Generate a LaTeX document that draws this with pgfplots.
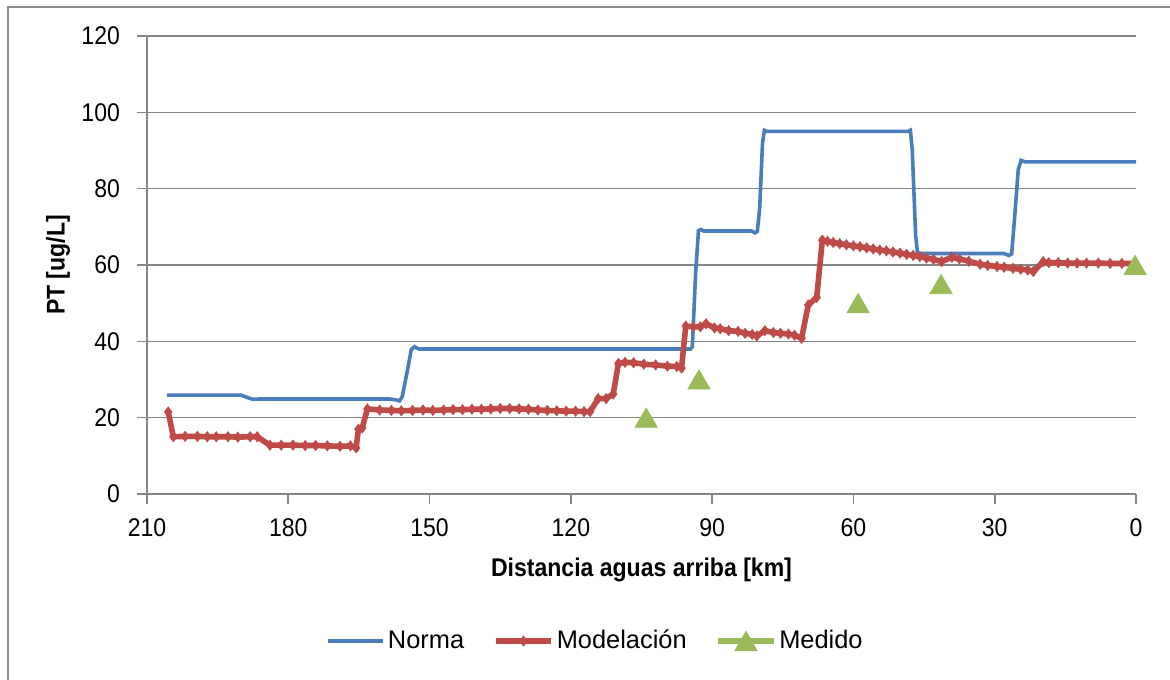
\documentclass[border=0pt]{standalone}
\usepackage{fontspec}
\setmainfont{Liberation Sans}
\newfontfamily\narrowfont{Liberation Sans}[FakeStretch=0.9]
\usepackage{pgfplots}
\pgfplotsset{compat=1.18}
\definecolor{normablue}{HTML}{4A7EBB}
\definecolor{modred}{HTML}{BE4B48}
\definecolor{medgreen}{HTML}{9BBB59}
\definecolor{gridgray}{HTML}{868686}
\definecolor{framegray}{HTML}{8C8C8C}
\begin{document}
\begin{tikzpicture}
\useasboundingbox (0,0) rectangle (585pt,339.5pt);
\draw[framegray, line width=0.8pt] (4pt,-2pt) -- (4pt,336pt) -- (590pt,336pt);
\begin{axis}[
  at={(73.5pt,92.5pt)}, anchor=south west,
  width=494.5pt, height=229pt, scale only axis=true,
  xmin=0, xmax=210, ymin=0, ymax=120,
  x dir=reverse,
  xtick={0,30,60,90,120,150,180,210},
  ytick={0,20,40,60,80,100,120},
  axis x line*=bottom, axis y line*=left,
  axis line style={draw=gridgray, line width=0.8pt},
  ymajorgrids=true,
  major grid style={draw=gridgray, line width=0.8pt},
  tick align=outside,
  major tick length=5pt,
  tick style={draw=gridgray, line width=0.8pt},
  /pgf/number format/assume math mode=true,
  tick label style={font=\narrowfont\fontsize{12.8}{15}\selectfont, text=black},
  xticklabel style={yshift=-4pt},
  yticklabel style={xshift=-5pt},
  xlabel={Distancia aguas arriba [km]},
  ylabel={PT [ug/L]},
  label style={font=\narrowfont\fontsize{12.8}{15}\selectfont\bfseries},
  xlabel style={at={(axis description cs:0.5,-0.166)}, anchor=center},
  ylabel style={at={(axis description cs:-0.09,0.5)}, anchor=center},
  legend style={at={(axis description cs:0.454,-0.321)}, anchor=center,
    draw=none, legend columns=3, font=\fontsize{12.7}{15}\selectfont,
    nodes={inner xsep=1.5pt},
    /tikz/every even column/.append style={column sep=13pt}},
  legend cell align=left,
  legend image code/.code={\draw[sharp plot, mark repeat=2, mark phase=2] plot coordinates {(0pt,0pt) (13.75pt,0pt) (27.5pt,0pt)};},
]
\addplot[normablue, line width=1.8pt, no marks] coordinates {
(205.8,25.9) (190.0,25.9) (188.5,25.2) (187.5,24.8) (186.0,24.9)
(158.5,24.9) (157.3,24.7) (156.4,24.4) (155.8,25.5) (154.6,33.0) (153.9,37.8) (153.2,38.6) (152.3,38.0)
(94.6,38.0) (94.2,38.6) (93.5,58.0) (92.9,69.0) (92.4,69.3) (91.8,68.9)
(81.6,68.9) (80.9,68.4) (80.4,68.8) (79.9,75.0) (79.3,92.0) (78.9,95.3) (78.3,95.0)
(48.4,95.0) (47.9,95.3) (47.5,90.0) (46.8,68.0) (46.4,63.2) (45.6,63.0)
(28.0,63.0) (27.0,62.5) (26.4,62.9) (25.8,72.0) (25.0,85.0) (24.4,87.4) (23.5,87.0)
(0.0,87.0)
};
\addlegendentry{Norma}
\addplot[modred, line width=2.8pt, mark=diamond*, mark size=2.5pt, mark options={line width=0.4pt}] coordinates {
(205.5,21.5) (204.4,15.0) (201.9,15.1) (199.3,15.1) (197.2,15.0) (195.3,15.0) (192.8,15.0) (190.7,14.9) (188.1,15.0) (186.6,15.0)
(183.9,12.8) (181.5,12.8) (179.0,12.8) (176.4,12.7) (174.2,12.7) (171.7,12.6) (169.0,12.5) (166.8,12.6) (165.6,12.1)
(165.1,17.0) (164.3,17.3) (163.2,22.3) (160.6,22.0) (158.1,21.9) (156.0,21.8) (153.6,21.9) (151.4,22.0) (149.3,21.9)
(147.0,22.0) (145.0,22.1) (143.0,22.1) (141.0,22.2) (139.0,22.2) (137.0,22.3) (135.0,22.4) (133.0,22.4) (131.0,22.3)
(129.0,22.2) (127.0,22.0) (125.0,21.9) (123.0,21.8) (121.0,21.7) (119.0,21.7) (117.2,21.6) (115.9,21.6)
(114.2,25.0) (112.5,25.0) (111.0,26.2) (109.9,34.2) (108.5,34.5) (106.7,34.4) (104.5,34.0) (102.0,33.8) (99.5,33.5) (97.5,33.4) (96.5,33.0)
(95.6,44.0) (94.0,43.8) (92.5,43.8) (91.3,44.6) (89.5,43.5) (88.3,43.3) (86.5,42.8) (84.5,42.6) (83.0,42.1) (81.5,41.8) (80.5,41.4)
(78.8,42.8) (77.0,42.3) (75.5,42.1) (73.8,41.9) (72.5,41.6) (71.0,40.8) (69.6,49.5) (67.8,51.5)
(66.6,66.5) (65.5,66.2) (64.3,65.9) (62.9,65.6) (61.5,65.3) (60.0,65.0) (58.6,64.8) (57.2,64.5) (55.8,64.2) (54.4,63.9)
(53.0,63.7) (51.6,63.4) (50.1,63.1) (48.7,62.8) (47.3,62.5) (45.9,62.2) (44.5,61.8) (43.0,61.5) (41.3,60.9)
(39.1,62.0) (37.5,61.6) (35.5,61.0) (33.1,60.2) (31.5,59.9) (29.5,59.6) (28.0,59.4) (26.1,59.1) (24.5,58.9) (23.0,58.7) (21.8,58.3)
(19.7,60.9) (18.5,60.6) (16.5,60.6) (14.5,60.5) (12.5,60.5) (10.5,60.5) (8.0,60.5) (5.5,60.4) (3.0,60.4) (0.2,60.4)
};
\addlegendentry{Modelación}
\addplot[medgreen, only marks, mark=triangle*, mark size=6.4pt,
  mark options={line width=0.4pt, fill=medgreen, draw=medgreen, yshift=-1.6pt},
  legend image code/.code={
    \draw[medgreen, line width=2.8pt] (0pt,0pt) -- (27.5pt,0pt);
    \draw plot coordinates {(13.75pt,0pt)};}] coordinates {
(104.0,20.0) (92.8,30.0) (59.0,50.0) (41.4,55.0) (0.2,60.0)
};
\addlegendentry{Medido}
\end{axis}
\end{tikzpicture}
\end{document}
